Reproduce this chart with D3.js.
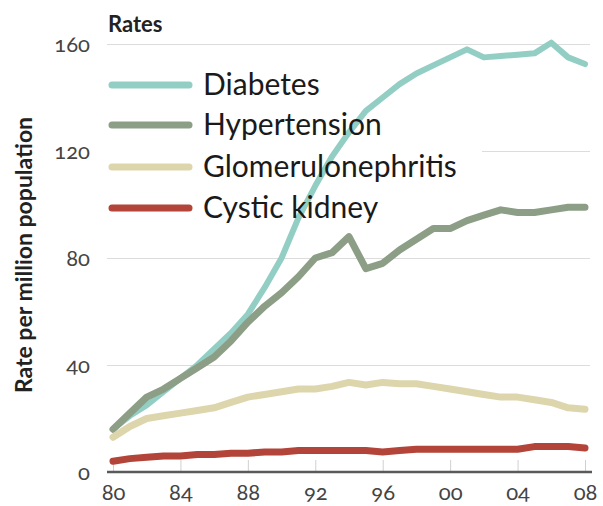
<!DOCTYPE html>
<html>
<head>
<meta charset="utf-8">
<script src="https://cdnjs.cloudflare.com/ajax/libs/d3/7.8.5/d3.min.js"></script>
<style>
    body { margin: 0; background: #fff; }
    svg text { font-family: Lato, "Open Sans", sans-serif; }
    .num { font-variant-numeric: oldstyle-nums; font-feature-settings: "onum"; }
</style>
</head>
<body>
<div id="svganchor"></div>
<script>
const height = 506;
const width = 603;
const margin = ({top: 44, right: 18, bottom: 34, left: 113});

const years = d3.range(1980, 2009);
const yTicks = [0, 40, 80, 120, 160];
const xTicks = [1980, 1984, 1988, 1992, 1996, 2000, 2004, 2008];

const diabetes = [16, 21, 25, 30, 35, 40, 46, 52, 59, 69, 80, 95, 107, 118, 127, 135, 140, 145, 149, 152, 155, 158, 155, 155.5, 156, 156.5, 160.5, 155, 152.5];
const hypertension = [16, 22, 28, 31, 35, 39, 43, 49, 56, 62, 67, 73, 80, 82, 88, 76, 78, 83, 87, 91, 91, 94, 96, 98, 97, 97, 98, 99, 99];
const glomerulonephritis = [13, 17, 20, 21, 22, 23, 24, 26, 28, 29, 30, 31, 31, 32, 33.5, 32.5, 33.5, 33, 33, 32, 31, 30, 29, 28, 28, 27, 26, 24, 23.5];
const cysticKidney = [4, 5, 5.5, 6, 6, 6.5, 6.5, 7, 7, 7.5, 7.5, 8, 8, 8, 8, 8, 7.5, 8, 8.5, 8.5, 8.5, 8.5, 8.5, 8.5, 8.5, 9.5, 9.5, 9.5, 9];

const seriesNames = ["Diabetes", "Hypertension", "Glomerulonephritis", "Cystic kidney"];
const seriesValues = [diabetes, hypertension, glomerulonephritis, cysticKidney];

let colors = d3.scaleOrdinal()
    .domain(seriesNames)
    .range(["#93cec4", "#8c9e86", "#ddd6ac", "#b3443a"]);

let svg = d3.select("#svganchor")
    .append("svg")
    .attr("width", width)
    .attr("height", height);

let xScale = d3.scaleLinear()
    .domain([1980, 2008])
    .range([margin.left, 585]);

let yScale = d3.scaleLinear()
    .domain([0, 160])
    .range([height - margin.bottom, margin.top]);

// gridlines + y labels
let yAxis = d3.axisLeft(yScale)
    .tickValues(yTicks)
    .tickSize(483)
    .tickPadding(17);

let gy = svg.append("g")
    .attr("transform", "translate(590,0)")
    .call(yAxis);
gy.select(".domain").remove();
gy.selectAll(".tick line").attr("stroke", "#dcdcdc").attr("stroke-width", 1);
gy.selectAll(".tick text")
    .attr("class", "num")
    .attr("fill", "#444")
    .style("font-size", "22px");

// legend background hides the gridline behind it
svg.append("rect")
    .attr("x", 104)
    .attr("y", 62)
    .attr("width", 378)
    .attr("height", 164)
    .attr("fill", "#fff");

// x axis ticks (upward) and labels
let gxTicks = svg.append("g")
    .attr("transform", "translate(0," + (height - margin.bottom) + ")")
    .call(d3.axisTop(xScale).tickValues(xTicks).tickSize(12).tickFormat(""));
gxTicks.select(".domain").remove();
gxTicks.selectAll(".tick line").attr("stroke", "#d0d0d0");

let gx = svg.append("g")
    .attr("transform", "translate(0," + (height - margin.bottom) + ")")
    .call(d3.axisBottom(xScale)
        .tickValues(xTicks)
        .tickSize(0)
        .tickPadding(12)
        .tickFormat(function (d) {
            return d3.format("02")(d % 100);
        }));
gx.select(".domain").remove();
gx.selectAll(".tick text")
    .attr("class", "num")
    .attr("fill", "#444")
    .style("font-size", "22px");

// series lines
let line = d3.line()
    .x(function (d, i) { return xScale(years[i]); })
    .y(function (d) { return yScale(d); });

svg.selectAll(".series")
    .data(seriesValues)
    .enter()
    .append("path")
    .attr("class", "series")
    .attr("d", line)
    .attr("fill", "none")
    .attr("stroke", function (d, i) { return colors(seriesNames[i]); })
    .attr("stroke-width", function (d, i) { return i === 0 ? 6 : 7; })
    .attr("stroke-linejoin", "round")
    .attr("stroke-linecap", "round");

// baseline
svg.append("line")
    .attr("x1", 107)
    .attr("x2", 592)
    .attr("y1", yScale(0))
    .attr("y2", yScale(0))
    .attr("stroke", "#5a5a5a")
    .attr("stroke-width", 2.5);

// legend
let legend = svg.selectAll(".legend")
    .data(seriesNames)
    .enter()
    .append("g")
    .attr("class", "legend")
    .attr("transform", function (d, i) {
        return "translate(112," + [85, 125, 167, 208][i] + ")";
    });

legend.append("line")
    .attr("x1", 0)
    .attr("x2", 77)
    .attr("stroke", function (d) { return colors(d); })
    .attr("stroke-width", 7)
    .attr("stroke-linecap", "round");

legend.append("text")
    .attr("x", 91)
    .attr("dy", "0.34em")
    .attr("fill", "#1a1a1a")
    .style("font-size", "30px")
    .text(function (d) { return d; });

// titles
svg.append("text")
    .attr("x", 108)
    .attr("y", 32)
    .attr("fill", "#222")
    .style("font-size", "22px")
    .style("font-weight", "bold")
    .text("Rates");

svg.append("text")
    .attr("transform", "translate(32,255) rotate(-90)")
    .attr("text-anchor", "middle")
    .attr("fill", "#222")
    .style("font-size", "23px")
    .style("font-weight", "bold")
    .text("Rate per million population");
</script>
</body>
</html>
